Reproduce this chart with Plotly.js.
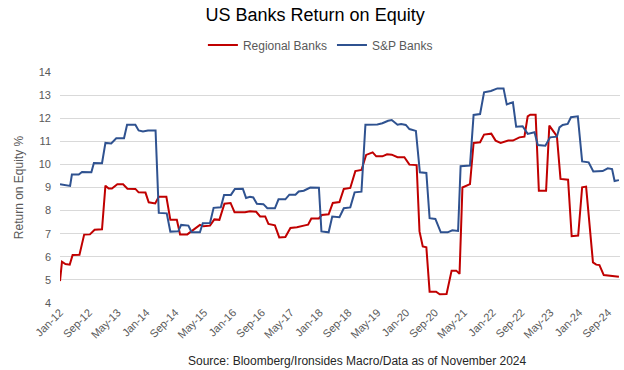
<!DOCTYPE html>
<html><head><meta charset="utf-8">
<script src="https://cdn.plot.ly/plotly-3.0.1.min.js"></script>
<style>html,body{margin:0;padding:0;background:#fff}#chart{width:624px;height:370px}</style>
</head><body><div id="chart"></div><script>
// x values: months elapsed since Jan-2012
const tickMonths = [0, 8, 16, 24, 32, 40, 48, 56, 64, 72, 80, 88, 96, 104, 112, 120, 128, 136, 144, 152];
const tickLabels = ["Jan-12","Sep-12","May-13","Jan-14","Sep-14","May-15","Jan-16","Sep-16","May-17","Jan-18",
                    "Sep-18","May-19","Jan-20","Sep-20","May-21","Jan-22","Sep-22","May-23","Jan-24","Sep-24"];

const regionalMonths = [0, 0.55, 1.5, 2.7, 3.5, 5.4, 6.7, 8.3, 9.6, 11.65, 12.6, 13.5, 14.4, 15.9, 17.5, 18.7, 20.9, 21.8, 23.7, 24.6,
  26.4, 27.4, 29.5, 30.6, 32.4, 33.3, 35.3, 37, 38.8, 39.8, 41.6, 42.8, 44.2, 45.6, 47.3, 48.4, 51.3, 52.7, 54.4, 55.5,
  56.9, 57.8, 59.6, 60.8, 62.5, 63.9, 65.7, 67.9, 68.8, 69.7, 71.8, 72.6, 74.5, 75.65, 77.5, 78.7, 80.5, 81.9, 83.6, 84.9,
  86.1, 86.7, 87.7, 89.4, 90.7, 92, 93.6, 95.5, 96.9, 98.9, 99.7, 100.6, 101.6, 102.5, 104.3, 105.3, 107.2, 108.6, 109.9, 110.8,
  111.6, 113.7, 114.7, 116.5, 117.6, 119.6, 120.8, 122.2, 124.3, 125.6, 127.4, 128.8, 129.7, 130.4, 131.9, 132.8, 134.8, 135.7, 137.8, 138.8,
  140.9, 141.9, 143.7, 144.8, 145.9, 147.8, 148.7, 149.6, 150.8, 152.8, 155];
const regionalRoe = [4.95, 5.79, 5.69, 5.66, 6.08, 6.09, 6.96, 6.97, 7.17, 7.19, 9.08, 8.96, 8.96, 9.14, 9.14, 8.95, 8.94, 8.79, 8.78, 8.36,
  8.31, 8.6, 8.6, 7.6, 7.6, 6.97, 6.97, 7.17, 7.38, 7.32, 7.35, 7.62, 7.6, 8.3, 8.33, 7.93, 7.93, 7.97, 7.95, 7.75,
  7.75, 7.42, 7.36, 6.84, 6.86, 7.25, 7.28, 7.36, 7.39, 7.66, 7.66, 7.81, 7.84, 8.33, 8.37, 8.94, 8.98, 9.71, 9.76, 10.41,
  10.49, 10.52, 10.35, 10.35, 10.44, 10.42, 10.31, 10.31, 9.99, 9.97, 7.1, 6.45, 6.41, 4.49, 4.49, 4.38, 4.39, 5.4, 5.4, 5.26,
  9.0, 9.15, 10.93, 10.96, 11.29, 11.33, 11.03, 10.93, 11.03, 11.03, 11.17, 11.2, 12.08, 12.15, 12.15, 8.86, 8.86, 11.68, 11.22, 9.37,
  9.34, 6.89, 6.92, 9.01, 9.04, 5.76, 5.66, 5.64, 5.21, 5.18, 5.14];

const spMonths = [0, 2.2, 2.8, 3.3, 5.2, 6.1, 8.7, 9.4, 11.65, 12.6, 14.2, 15.6, 17.75, 18.6, 20.9, 21.8, 23, 24.4, 26.5, 27.4,
  29.6, 30.6, 32.8, 33.6, 35.6, 36.5, 38.8, 39.6, 41.6, 42.6, 44.6, 45.5, 47.4, 48.5, 50.7, 51.6, 52.7, 53.6, 54.6, 56.4,
  57.5, 59.6, 60.6, 62.5, 63.6, 65.3, 66.2, 67.6, 68.5, 69.4, 71.8, 72.5, 74.5, 75.5, 77.5, 78.7, 80.5, 81.7, 83.6, 84.7,
  88, 89.4, 91, 92, 93.6, 94.6, 95.9, 96.9, 98.7, 99.8, 101.6, 102.5, 104.1, 105.6, 107.5, 108.8, 110.4, 111.1, 113.7, 114.7,
  116.5, 117.6, 119.5, 121.3, 123, 123.9, 125.6, 126.5, 128.3, 129.7, 131.6, 132.5, 134.6, 135.9, 137.8, 138.5, 139.4, 140.8, 141.7, 143.6,
  144.8, 146.6, 147.9, 150.5, 151.9, 153.1, 153.8, 155];
const spRoe = [9.14, 9.08, 9.07, 9.56, 9.56, 9.67, 9.66, 10.06, 10.05, 10.93, 10.91, 11.13, 11.13, 11.72, 11.72, 11.47, 11.43, 11.47, 11.47, 7.9,
  7.88, 7.09, 7.1, 7.38, 7.35, 7.06, 7.06, 7.45, 7.46, 8.12, 8.14, 8.68, 8.68, 8.94, 8.95, 8.55, 8.6, 8.57, 8.3, 8.28,
  8.1, 8.1, 8.49, 8.49, 8.69, 8.69, 8.83, 8.86, 8.92, 9.0, 8.99, 7.1, 7.06, 7.74, 7.71, 8.1, 8.14, 8.79, 8.82, 11.72,
  11.73, 11.78, 11.89, 11.92, 11.72, 11.75, 11.71, 11.53, 11.45, 9.66, 9.63, 7.67, 7.64, 7.06, 7.06, 7.15, 7.12, 9.92, 9.95, 12.14,
  12.18, 13.12, 13.18, 13.29, 13.29, 12.6, 12.69, 11.63, 11.65, 11.32, 11.39, 10.84, 10.81, 11.17, 11.2, 11.6, 11.71, 11.75, 12.04, 12.08,
  10.13, 10.09, 9.69, 9.71, 9.83, 9.8, 9.28, 9.32];

const FONT = '"Liberation Sans", Arial, sans-serif';
const traces = [
  {x: regionalMonths, y: regionalRoe, type: 'scatter', mode: 'lines', name: 'Regional Banks',
   line: {color: '#C00000', width: 2}},
  {x: spMonths, y: spRoe, type: 'scatter', mode: 'lines', name: 'S&P Banks',
   line: {color: '#2F5290', width: 2}}
];
const layout = {
  width: 624, height: 370,
  margin: {l: 60, r: 4, t: 72, b: 67},
  paper_bgcolor: '#fff', plot_bgcolor: '#fff',
  font: {family: FONT, color: '#595959', size: 11},
  title: {text: 'US Banks Return on Equity', font: {family: FONT, size: 18, color: '#000'},
          x: 0.505, xanchor: 'center', y: 0.959, yanchor: 'middle', xref: 'container', yref: 'container'},
  showlegend: true,
  legend: {orientation: 'h', x: 0.465, xanchor: 'center', y: 1.117, yanchor: 'middle',
           font: {family: FONT, size: 12, color: '#595959'}, itemwidth: 30, tracegroupgap: 0},
  xaxis: {range: [0, 155.3], tickmode: 'array', tickvals: tickMonths, ticktext: tickLabels, tickangle: -45,
          showgrid: false, zeroline: false, showline: false, ticks: '',
          tickfont: {size: 11, color: '#595959'}},
  yaxis: {range: [4, 14], dtick: 1, tick0: 4, showgrid: true, gridcolor: '#d9d9d9', gridwidth: 1,
          zeroline: false, showline: false, ticks: '', ticklabelstandoff: 8, tickfont: {size: 11, color: '#595959'},
          title: {text: 'Return on Equity %', font: {size: 12, color: '#595959'}, standoff: 12}},
  annotations: [{text: 'Source: Bloomberg/Ironsides Macro/Data as of November 2024', xref: 'paper', yref: 'paper',
                 x: 0.53, y: -0.25, xanchor: 'center', yanchor: 'middle', showarrow: false,
                 font: {family: FONT, size: 12, color: '#262626'}}]
};
Plotly.newPlot('chart', traces, layout, {displayModeBar: false, staticPlot: true});
</script></body></html>
